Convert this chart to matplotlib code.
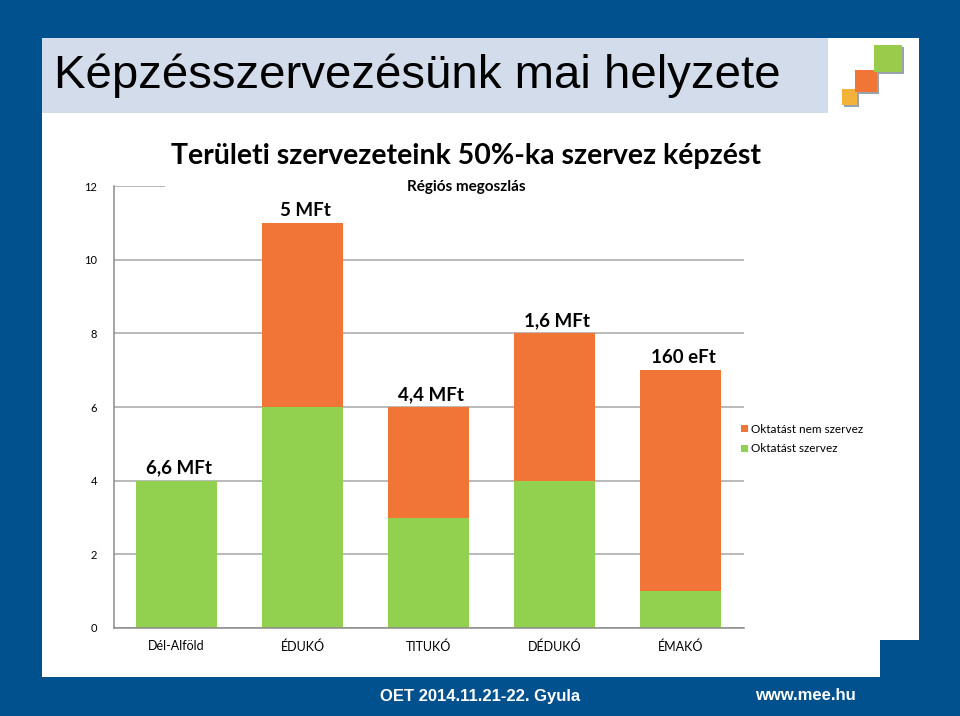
import numpy as np
import matplotlib.pyplot as plt
from matplotlib.patches import Rectangle

# chart data
regions = ['Dél-Alföld', 'ÉDUKÓ', 'TITUKÓ', 'DÉDUKÓ', 'ÉMAKÓ']
szervez = [4, 6, 3, 4, 1]
nem_szervez = [0, 5, 3, 4, 6]
value_labels = ['6,6 MFt', '5 MFt', '4,4 MFt', '1,6 MFt', '160 eFt']
yticks = [0, 2, 4, 6, 8, 10, 12]

slide_title = 'Képzésszervezésünk mai helyzete'
chart_title = 'Területi szervezeteink 50%-ka szervez képzést'
chart_subtitle = 'Régiós megoszlás'
footer_left = 'OET 2014.11.21-22. Gyula'
footer_right = 'www.mee.hu'

BLUE = '#00518E'
BAND = '#D3DCEA'
ORANGE = '#F07537'
GREEN = '#92D050'
GRID = '#A6A6A6'
CHART_FONT = ['Lato', 'DejaVu Sans']
SLIDE_FONT = ['Liberation Sans', 'DejaVu Sans']
W, H = 960, 716


def fx(px):
    return px / W


def fy(py):
    return 1 - py / H


def slide_rect(x0, y0, x1, y1, color, z):
    # rectangle given in slide pixels (top-left / bottom-right)
    fig.patches.append(Rectangle((fx(x0), fy(y1)), fx(x1) - fx(x0), fy(y0) - fy(y1),
                                 transform=fig.transFigure, facecolor=color,
                                 edgecolor='none', zorder=z))


fig = plt.figure(figsize=(9.6, 7.16), dpi=100, facecolor=BLUE)

# white slide body with the notch at the bottom right
slide_rect(42, 38, 880, 677, 'white', -3)
slide_rect(880, 38, 919, 640, 'white', -3)
# title band
slide_rect(42, 38, 828, 113, BAND, -2)

# logo squares (shadow, then colour)
for x0, y0, x1, y1, c in [(842, 89, 857, 105, '#F4B23A'),
                          (855, 70, 877, 92, ORANGE),
                          (874, 45, 902, 72, '#9BCB4B')]:
    slide_rect(x0 + 1.5, y0 + 1.5, x1 + 1.5, y1 + 1.5, '#9AA3AD', -1)
    slide_rect(x0, y0, x1, y1, c, -0.5)

fig.text(fx(54), fy(76), slide_title, fontsize=34.1, family=SLIDE_FONT,
         ha='left', va='center', color='black')

# chart
ax = fig.add_axes([fx(113.5), fy(628), fx(743.5) - fx(113.5), fy(186) - fy(628)])
x = np.arange(len(regions))
ax.bar(x, szervez, width=0.64, color=GREEN, label='Oktatást szervez', zorder=2)
ax.bar(x, nem_szervez, width=0.64, bottom=szervez, color=ORANGE,
       label='Oktatást nem szervez', zorder=2)

for i, lbl in enumerate(value_labels):
    ax.annotate(lbl, (x[i], szervez[i] + nem_szervez[i]), xytext=(2, 3),
                textcoords='offset points', ha='center', va='bottom',
                fontsize=13.5, fontweight='bold', family=CHART_FONT)

ax.set_xlim(-0.5, len(regions) - 0.5)
ax.set_ylim(0, 12)
ax.set_yticks(yticks)
ax.set_xticks(x)
ax.set_xticklabels(regions, family=CHART_FONT, fontsize=9)
for t in ax.get_yticklabels():
    t.set_family(CHART_FONT)
    t.set_fontsize(8)
ax.tick_params(length=0, pad=12)
ax.tick_params(axis='x', pad=9)
ax.yaxis.grid(True, color=GRID, linewidth=1.1, zorder=0)
ax.set_axisbelow(True)
for s in ['top', 'right']:
    ax.spines[s].set_visible(False)
for s in ['left', 'bottom']:
    ax.spines[s].set_color('#8C8C8C')
    ax.spines[s].set_linewidth(1.1)

# white title block that hides the top gridline
slide_rect(165, 132, 770, 200, 'white', 5)
fig.text(fx(466), fy(156), chart_title, fontsize=20.5, fontweight='bold', family=CHART_FONT,
         ha='center', va='center', zorder=6)
fig.text(fx(466), fy(187), chart_subtitle, fontsize=11, fontweight='bold', family=CHART_FONT,
         ha='center', va='center', zorder=6)

handles, labels = ax.get_legend_handles_labels()
leg = fig.legend(handles[::-1], labels[::-1], loc='upper left',
                 bbox_to_anchor=(fx(730), fy(413)), frameon=False,
                 handlelength=0.6, handleheight=0.6, handletextpad=0.3,
                 labelspacing=0.75, prop={'family': CHART_FONT, 'size': 8.5})

fig.text(fx(480), fy(696), footer_left, fontsize=12, fontweight='bold', color='white',
         family=SLIDE_FONT, ha='center', va='center')
fig.text(fx(805), fy(696), footer_right, fontsize=12, fontweight='bold', color='white',
         family=SLIDE_FONT, ha='center', va='center')

fig.savefig('out.png', dpi=100, facecolor=BLUE)
